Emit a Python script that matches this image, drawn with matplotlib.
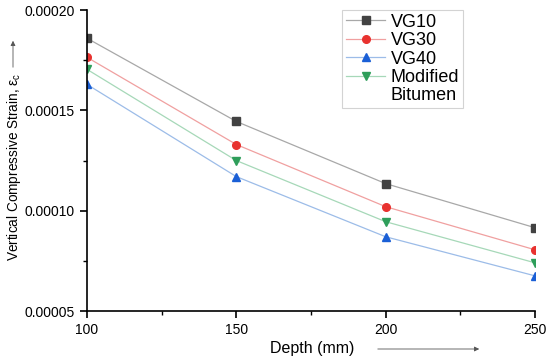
import matplotlib
matplotlib.use("Agg")
import matplotlib.pyplot as plt
from matplotlib.lines import Line2D
from matplotlib.ticker import MultipleLocator, FormatStrFormatter

plt.rcParams['font.family'] = ['Liberation Sans', 'DejaVu Sans']

depth = [100, 150, 200, 250]
vg10 = [0.000186, 0.0001445, 0.0001135, 0.0000915]
vg30 = [0.0001765, 0.000133, 0.000102, 0.0000805]
vg40 = [0.000163, 0.000117, 0.000087, 0.0000675]
modified = [0.0001705, 0.000125, 0.0000945, 0.000074]

series = [
    ("VG10", vg10, "s", "#424242", "#a8a8a8"),
    ("VG30", vg30, "o", "#e8322f", "#f0a0a0"),
    ("VG40", vg40, "^", "#1a5fd6", "#9cbce8"),
    ("Modified", modified, "v", "#2e9e5a", "#a6d8b8"),
]

fig = plt.figure(figsize=(5.5, 3.61), dpi=100)
ax = fig.add_axes([0.158, 0.1385, 0.815, 0.8335])

handles = []
for name, vals, mk, mc, lc in series:
    h, = ax.plot(depth, vals, color=lc, lw=0.9, marker=mk, markersize=5.5,
                 markerfacecolor=mc, markeredgecolor=mc, label=name)
    handles.append(h)
# second line of the "Modified Bitumen" label
handles.append(Line2D([], [], linestyle='none', marker=None))
labels = [s[0] for s in series] + ["Bitumen"]

ax.set_xlim(100, 250)
ax.set_ylim(0.00005, 0.00020)
ax.xaxis.set_major_locator(MultipleLocator(50))
ax.xaxis.set_minor_locator(MultipleLocator(25))
ax.yaxis.set_major_locator(MultipleLocator(0.00005))
ax.yaxis.set_minor_locator(MultipleLocator(0.000025))
ax.yaxis.set_major_formatter(FormatStrFormatter('%.5f'))
for s in ['top', 'right']:
    ax.spines[s].set_visible(False)
for s in ['left', 'bottom']:
    ax.spines[s].set_linewidth(1.2)
ax.tick_params(which='major', direction='out', length=5, width=1.2, labelsize=10)
ax.tick_params(which='minor', direction='out', length=3, width=1)

ax.set_xlabel("Depth (mm)", fontsize=11.5)
ax.xaxis.set_label_coords(0.503, -0.1)
ax.set_ylabel("Vertical Compressive Strain, $\\mathregular{\\epsilon_c}$", fontsize=9.8)
ax.yaxis.set_label_coords(-0.143, 0.48)

# arrows next to axis labels
fig.patches.append(matplotlib.patches.FancyArrowPatch(
    (13 / 550, 1 - 70 / 361), (13 / 550, 1 - 38 / 361), transform=fig.transFigure,
    arrowstyle='-|>', mutation_scale=7, color='#555555', lw=0.6))
fig.patches.append(matplotlib.patches.FancyArrowPatch(
    (375 / 550, 1 - 349 / 361), (482 / 550, 1 - 349 / 361), transform=fig.transFigure,
    arrowstyle='-|>', mutation_scale=7, color='#555555', lw=0.6))

leg = ax.legend(handles, labels, loc='upper left', bbox_to_anchor=((342 - 87) / 448, 1.0),
                fontsize=13, frameon=True, fancybox=False, edgecolor='#c8c8c8',
                handlelength=2.2, handletextpad=0.3, borderpad=0.2, labelspacing=0.08,
                borderaxespad=0)
leg.get_frame().set_linewidth(0.8)

fig.savefig("out.png", dpi=100)
